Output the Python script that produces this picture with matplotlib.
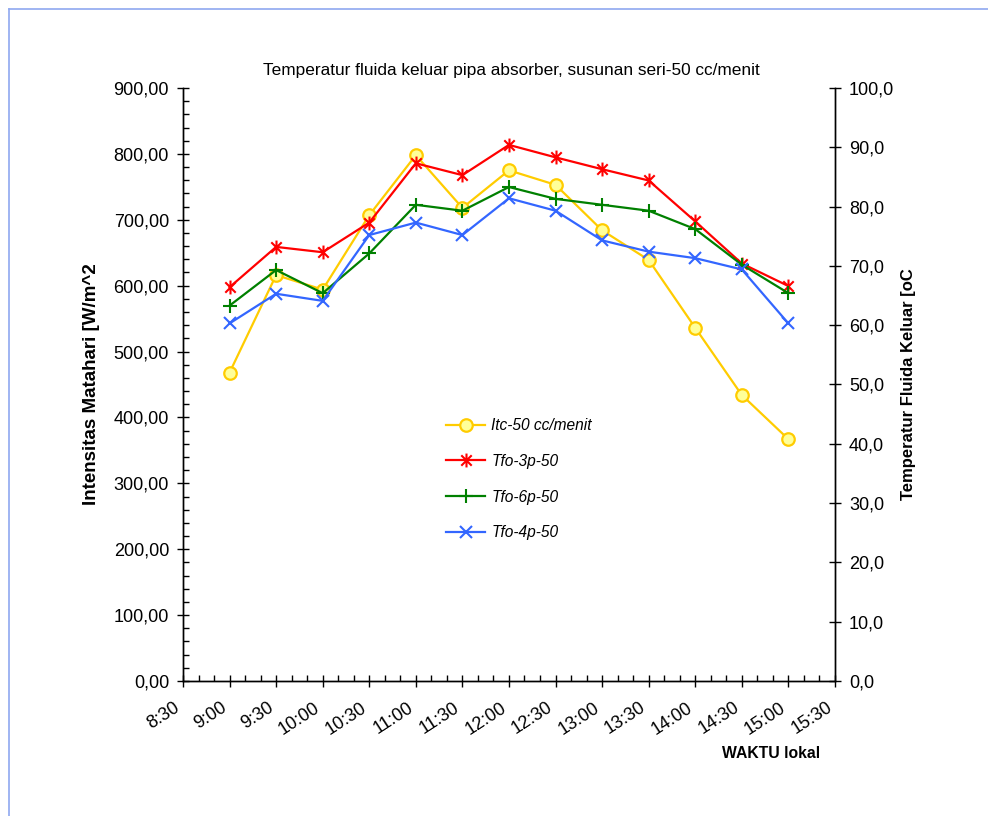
import matplotlib
matplotlib.use("Agg")
import matplotlib.pyplot as plt
import matplotlib.transforms as mtransforms
from matplotlib.path import Path
from matplotlib.lines import Line2D
from matplotlib.ticker import MultipleLocator, FuncFormatter, FixedLocator, NullFormatter

plt.rcParams['font.family'] = ['Liberation Sans', 'DejaVu Sans']

# Measurement times (local time)
times = ["9:00", "9:30", "10:00", "10:30", "11:00", "11:30", "12:00",
         "12:30", "13:00", "13:30", "14:00", "14:30", "15:00"]

# Solar intensity [W/m^2] (left axis)
itc_50 = [468, 616, 594, 707, 798, 718, 775, 753, 684, 639, 536, 434, 367]

# Outlet fluid temperature [oC] (right axis)
tfo_3p = [66.4, 73.2, 72.3, 77.3, 87.3, 85.3, 90.4, 88.3, 86.3, 84.4, 77.5, 70.4, 66.6]
tfo_6p = [63.3, 69.3, 65.4, 72.1, 80.3, 79.3, 83.3, 81.3, 80.3, 79.3, 76.2, 70.2, 65.4]
tfo_4p = [60.3, 65.3, 64.1, 75.2, 77.3, 75.2, 81.4, 79.3, 74.3, 72.4, 71.3, 69.4, 60.3]

tick_labels = ["8:30", "9:00", "9:30", "10:00", "10:30", "11:00", "11:30", "12:00",
               "12:30", "13:00", "13:30", "14:00", "14:30", "15:00", "15:30"]


def to_hours(s):
    h, m = s.split(":")
    return int(h) + int(m) / 60.0


x = [to_hours(t) for t in times]
xticks = [to_hours(t) for t in tick_labels]

# Excel-style asterisk: vertical bar plus a diagonal cross
star = Path([(0, -1), (0, 1), (-0.75, -0.75), (0.75, 0.75), (-0.75, 0.75), (0.75, -0.75)],
            [Path.MOVETO, Path.LINETO, Path.MOVETO, Path.LINETO, Path.MOVETO, Path.LINETO])

fig = plt.figure(figsize=(9.88, 8.16), dpi=100)
ax = fig.add_axes([0.1852, 0.1654, 0.6599, 0.7268])
ax2 = ax.twinx()

c_itc, c_3p, c_6p, c_4p = '#FFCC00', '#FF0000', '#008000', '#3366FF'

ax.plot(x, itc_50, color=c_itc, lw=1.6, marker='o', ms=9, mfc='#FFFF99',
        mec=c_itc, mew=1.6, zorder=3)
ax2.plot(x, tfo_3p, color=c_3p, lw=1.6, marker=star, ms=10, mec=c_3p, mew=1.5, zorder=4)
ax2.plot(x, tfo_6p, color=c_6p, lw=1.6, marker='+', ms=10, mec=c_6p, mew=1.5, zorder=4)
ax2.plot(x, tfo_4p, color=c_4p, lw=1.6, marker='x', ms=9, mec=c_4p, mew=1.5, zorder=4)

ax.set_xlim(xticks[0], xticks[-1])
ax.set_ylim(0, 900)
ax2.set_ylim(0, 100)

ax.xaxis.set_major_locator(FixedLocator(xticks))
ax.xaxis.set_minor_locator(MultipleLocator(1 / 6.0))
ax.xaxis.set_major_formatter(NullFormatter())

# Slanted time labels, placed just left of and below each major tick
offset = mtransforms.ScaledTranslation(-9 / 100, -18 / 100, fig.dpi_scale_trans)
for xt, lab in zip(xticks, tick_labels):
    ax.text(xt, 0, lab, transform=ax.get_xaxis_transform() + offset, rotation=33,
            rotation_mode='anchor', ha='right', va='top', fontsize=13, clip_on=False)

ax.yaxis.set_major_locator(MultipleLocator(100))
ax.yaxis.set_minor_locator(MultipleLocator(20))
ax.yaxis.set_major_formatter(FuncFormatter(lambda v, p: f"{v:.2f}".replace('.', ',')))
ax2.yaxis.set_major_locator(MultipleLocator(10))
ax2.yaxis.set_major_formatter(FuncFormatter(lambda v, p: f"{v:.1f}".replace('.', ',')))

for a in (ax, ax2):
    a.spines['top'].set_visible(False)
    for s in a.spines.values():
        s.set_linewidth(1.0)
        s.set_color('black')

ax.tick_params(axis='both', which='major', direction='inout', length=8, width=1.0,
               labelsize=13, pad=6)
ax.tick_params(axis='both', which='minor', direction='in', length=4, width=1.0)
ax2.tick_params(axis='y', which='major', direction='inout', length=8, width=1.0,
                labelsize=13, pad=6)

ax.set_ylabel("Intensitas Matahari [W/m^2", fontsize=13.5, fontweight='bold', labelpad=10)
ax2.set_ylabel("Temperatur Fluida Keluar [oC", fontsize=12, fontweight='bold', labelpad=5)
fig.text(820 / 988, 1 - 753 / 816, "WAKTU lokal", fontsize=11.3, fontweight='bold',
         ha='right', va='center')
fig.text(511 / 988, 1 - 70 / 816, "Temperatur fluida keluar pipa absorber, susunan seri-50 cc/menit",
         fontsize=12.4, ha='center', va='center')

handles = [
    Line2D([], [], color=c_itc, lw=1.6, marker='o', ms=9, mfc='#FFFF99', mec=c_itc, mew=1.6),
    Line2D([], [], color=c_3p, lw=1.6, marker=star, ms=10, mec=c_3p, mew=1.5),
    Line2D([], [], color=c_6p, lw=1.6, marker='+', ms=10, mec=c_6p, mew=1.5),
    Line2D([], [], color=c_4p, lw=1.6, marker='x', ms=9, mec=c_4p, mew=1.5),
]
labels = ["Itc-50 cc/menit", "Tfo-3p-50", "Tfo-6p-50", "Tfo-4p-50"]
leg = fig.legend(handles, labels, loc='upper left', bbox_to_anchor=(440 / 988, 1 - 412 / 816),
                 frameon=False, prop={'size': 11.2, 'style': 'italic'},
                 handlelength=2.5, handletextpad=0.4, labelspacing=1.33, borderaxespad=0)

# Outer chart-area border (left and top edges)
fig.add_artist(Line2D([8.5 / 988, 8.5 / 988], [0, 1 - 8.5 / 816], transform=fig.transFigure,
                      color='#8FA8F0', lw=1.2))
fig.add_artist(Line2D([8.5 / 988, 1], [1 - 8.5 / 816, 1 - 8.5 / 816], transform=fig.transFigure,
                      color='#8FA8F0', lw=1.2))

fig.savefig("out.png", dpi=100)
